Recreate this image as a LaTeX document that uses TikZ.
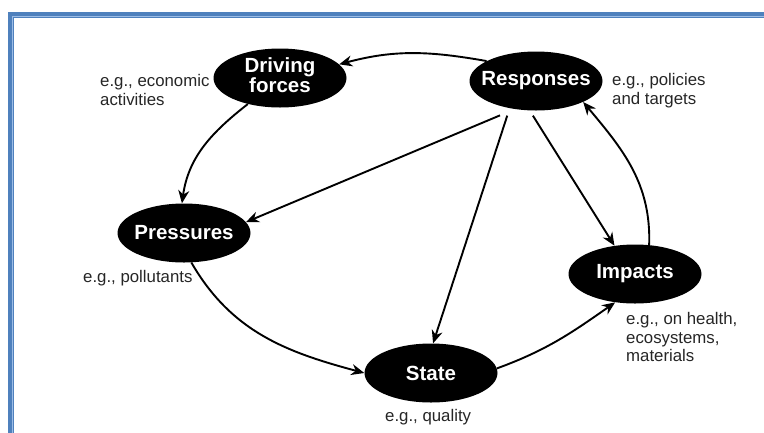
\documentclass[tikz,border=0pt]{standalone}
\usepackage{fontspec}
\setmainfont{Liberation Sans}
\usetikzlibrary{arrows.meta,shapes.geometric}
\definecolor{frameblue}{HTML}{4F81BD}
\definecolor{framelight}{HTML}{9DBDE6}
\begin{document}
\begin{tikzpicture}[x=1pt,y=1pt,
  ell/.style={ellipse, fill=black, draw=none, inner sep=0pt,
    minimum width=133pt, minimum height=59pt, text=white,
    font=\fontsize{20.5}{20.5}\selectfont\bfseries},
  note/.style={inner sep=0pt, align=left, text=black!85,
    font=\fontsize{16.8}{18.8}\selectfont},
  arr/.style={-{Stealth[length=13pt,width=11pt]}, line width=1.9pt, black}]
  \useasboundingbox (0,0) rectangle (764,-432);
  \clip (0,0) rectangle (764,-432);
  \fill[white] (0,0) rectangle (764,-432);
  % page frame
  \draw[frameblue, line width=6pt] (11,-15) rectangle (790,-460);
  \draw[framelight, line width=1.2pt] (12.6,-16.6) rectangle (790,-460);

  % DPSIR elements
  \node[ell] (df)    at (280,-78)  {\makebox[0pt]{\begin{tabular}{@{}c@{}}Driving\\[-0.5pt]forces\end{tabular}}};
  \node[ell] (resp)  at (536,-81)  {\makebox[0pt]{Responses}};
  \node[ell] (press) at (184,-233) {\makebox[0pt]{Pressures}};
  \node[ell] (imp)   at (635,-274) {\makebox[0pt]{Impacts}};
  \node[ell] (state) at (431,-373) {\makebox[0pt]{State}};

  % examples
  \node[note, anchor=north west] (nDF) at (100,-74) {e.g., economic\\activities};
  \node[note, anchor=north west] (nR)  at (612,-73) {e.g., policies\\and targets};
  \node[note, anchor=base west]  (nP)  at (83,-282) {e.g., pollutants};
  \node[note, anchor=base west]  (nS)  at (385,-421) {e.g., quality};
  \node[note, anchor=north west] (nI)  at (626,-312) {e.g., on health,\\ecosystems,\\materials};

  % causal links
  \draw[arr] (resp.158) to[out=170,in=15] (df.13);
  \draw[arr] (df.219) to[out=218,in=82] (press.94);
  \draw[arr] (press.284) to[out=-60,in=165] (state.180);
  \draw[arr] (state.4) to[out=20,in=215] (imp.235);
  \draw[arr] (imp.64) to[out=88,in=-50] (resp.336);
  % responses acting on the other elements
  \draw[arr, shorten <=16pt] (resp.233) -- (press.10);
  \draw[arr, shorten <=7.7pt] (resp.226) -- (state.86);
  \draw[arr, shorten <=6pt] (resp.258) -- (imp.126);
\end{tikzpicture}
\end{document}
